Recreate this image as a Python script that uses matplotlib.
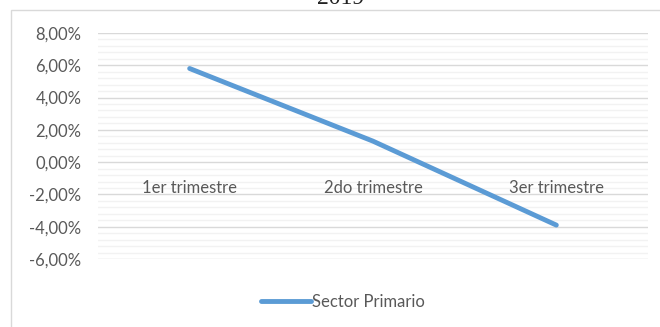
import matplotlib
matplotlib.use("Agg")
import matplotlib.pyplot as plt
from matplotlib.patches import Rectangle
from matplotlib.ticker import MultipleLocator, FuncFormatter

# Quarterly growth of the primary sector (%)
trimestres = ["1er trimestre", "2do trimestre", "3er trimestre"]
sector_primario = [5.8, 1.3, -3.9]
titulo = "2019"
serie = "Sector Primario"

W, H = 660, 327
fig = plt.figure(figsize=(W / 100, H / 100), dpi=100)
fig.patch.set_facecolor("white")

# chart frame
fig.patches.append(Rectangle((11 / W, -0.1), 1.2, (H - 10) / H + 0.1,
                             transform=fig.transFigure, fill=False,
                             edgecolor="#D9D9D9", linewidth=1.0))

fig.text(341 / W, (H - 4) / H, titulo, ha="center", va="baseline",
         fontsize=17, family="Liberation Serif", color="#222222")

ax = fig.add_axes([98 / W, 68 / H, 550 / W, 226 / H])
x = list(range(len(trimestres)))
ax.plot(x, sector_primario, color="#5B9BD5", linewidth=3.5,
        solid_capstyle="round", solid_joinstyle="round", label=serie, zorder=3)

ax.set_xlim(-0.5, len(trimestres) - 0.5)
ax.set_ylim(-6, 8)
ax.yaxis.set_major_locator(MultipleLocator(2))
ax.yaxis.set_minor_locator(MultipleLocator(0.4))
ax.yaxis.set_major_formatter(FuncFormatter(lambda v, p: f"{v:.2f}%".replace(".", ",")))
ax.grid(axis="y", which="major", color="#D9D9D9", linewidth=1.0)
ax.grid(axis="y", which="minor", color="#F2F2F2", linewidth=1.0)
ax.set_axisbelow(True)
ax.xaxis.set_zorder(2)

for s in ax.spines.values():
    s.set_visible(False)
ax.spines["bottom"].set_position(("data", 0))

ax.set_xticks(x)
ax.set_xticklabels(trimestres)
ax.tick_params(axis="x", length=0, pad=13, labelsize=12, labelcolor="#595959")
ax.tick_params(axis="y", which="both", length=0, pad=12, labelsize=12,
               labelcolor="#595959")
for lbl in ax.get_xticklabels() + ax.get_yticklabels():
    lbl.set_family("Lato")

leg = fig.legend(loc="center", bbox_to_anchor=(343 / W, (H - 302) / H),
                 frameon=False, handlelength=3.0, handletextpad=0.1,
                 prop={"family": "Lato", "size": 12})
for t in leg.get_texts():
    t.set_color("#595959")

fig.savefig("out.png", dpi=100)
